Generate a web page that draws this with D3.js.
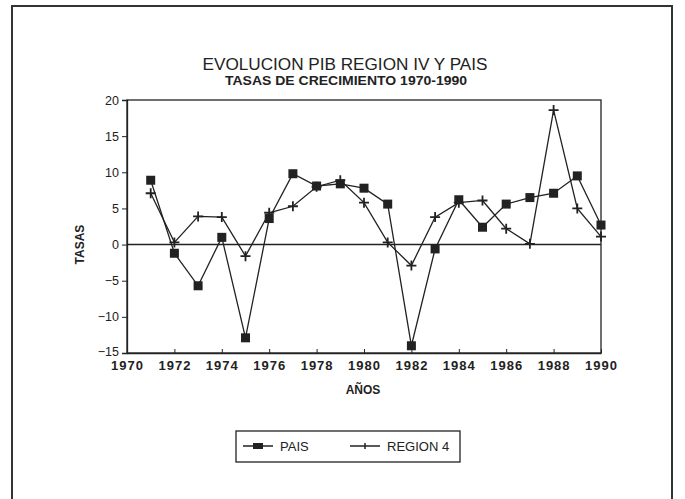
<!DOCTYPE html>
<html><head><meta charset="utf-8">
<script src="https://cdn.jsdelivr.net/npm/d3@7"></script>
<style>
body{margin:0;background:#fff;}
text{font-family:"Liberation Sans",Arial,sans-serif;fill:#222;}
</style></head>
<body><svg id="c" width="685" height="499"></svg>
<script>
const years = [1971,1972,1973,1974,1975,1976,1977,1978,1979,1980,1981,1982,1983,1984,1985,1986,1987,1988,1989,1990];
const pais = [8.9,-1.2,-5.7,1.0,-12.9,3.6,9.8,8.1,8.4,7.8,5.6,-14.0,-0.6,6.2,2.4,5.6,6.5,7.1,9.5,2.7];
const region4 = [7.1,0.3,3.9,3.8,-1.6,4.4,5.3,8.0,8.9,5.8,0.3,-2.9,3.8,5.8,6.1,2.2,0.1,18.6,5.0,1.1];
const xTicks = [1970,1972,1974,1976,1978,1980,1982,1984,1986,1988,1990];
const yTicks = [-15,-10,-5,0,5,10,15,20];
const title = "EVOLUCION PIB REGION IV Y PAIS";
const subtitle = "TASAS DE CRECIMIENTO 1970-1990";
const xLabel = "AÑOS";
const yLabel = "TASAS";
const seriesNames = ["PAIS","REGION 4"];

const svg = d3.select("#c");
const ink = "#222";
// outer frame
svg.append("rect").attr("x",12).attr("y",6).attr("width",660).attr("height",510)
  .attr("fill","none").attr("stroke","#333").attr("stroke-width",2);

const L=127,R=601,T=100,B=353;
const x = d3.scaleLinear().domain([1970,1990]).range([L,R]);
const y = d3.scaleLinear().domain([-15,20]).range([B,T]);

svg.append("text").attr("x",345).attr("y",70).attr("text-anchor","middle")
  .attr("font-size",16).attr("textLength",285).attr("lengthAdjust","spacingAndGlyphs").text(title);
svg.append("text").attr("x",346).attr("y",85).attr("text-anchor","middle")
  .attr("font-size",12).attr("font-weight","bold").attr("textLength",242).attr("lengthAdjust","spacingAndGlyphs").text(subtitle);

// frame
svg.append("rect").attr("x",L).attr("y",T).attr("width",R-L).attr("height",B-T)
  .attr("fill","none").attr("stroke",ink).attr("stroke-width",1.3);

const yAxis = svg.append("g").attr("transform",`translate(${L},0)`)
  .call(d3.axisLeft(y).tickValues(yTicks).tickSize(5).tickPadding(3).tickFormat(d=>d<0?"\u2212"+Math.abs(d):d));
yAxis.select(".domain").attr("stroke",ink).attr("stroke-width",1.3);
yAxis.selectAll("line").attr("stroke",ink);
yAxis.selectAll("text").attr("font-size",12.5).attr("fill",ink);
yAxis.selectAll(".tick").filter(d=>d===-15).select("text").attr("y",-2);

const xAxis = svg.append("g").attr("transform",`translate(0,${B})`)
  .call(d3.axisBottom(x).tickValues(xTicks).tickSizeInner(-4).tickSizeOuter(0).tickPadding(8).tickFormat(d3.format("d")));
xAxis.select(".domain").attr("stroke",ink).attr("stroke-width",1.3);
xAxis.selectAll("line").attr("stroke",ink);
xAxis.selectAll("text").attr("font-size",13).attr("font-weight","bold").attr("fill",ink).attr("letter-spacing","1px");

// zero line
svg.append("line").attr("x1",L).attr("x2",R).attr("y1",y(0)).attr("y2",y(0)).attr("stroke",ink).attr("stroke-width",1.5);

svg.append("text").attr("x",363).attr("y",394).attr("text-anchor","middle").attr("font-size",12).attr("font-weight","bold").text(xLabel);
svg.append("text").attr("transform",`translate(84,${y(0)}) rotate(-90)`).attr("text-anchor","middle").attr("font-size",12).attr("font-weight","bold").text(yLabel);

const line = d3.line().x(d=>x(d[0])).y(d=>y(d[1]));
const pd = years.map((yr,i)=>[yr,pais[i]]);
const rd = years.map((yr,i)=>[yr,region4[i]]);
svg.append("path").datum(pd).attr("d",line).attr("fill","none").attr("stroke",ink).attr("stroke-width",1.3);
svg.append("path").datum(rd).attr("d",line).attr("fill","none").attr("stroke",ink).attr("stroke-width",1.3);

const sq=9;
svg.append("g").selectAll("rect").data(pd).join("rect")
  .attr("x",d=>x(d[0])-sq/2).attr("y",d=>y(d[1])-sq/2).attr("width",sq).attr("height",sq).attr("fill",ink);
svg.append("g").selectAll("path").data(rd).join("path")
  .attr("d",d=>{const cx=x(d[0]),cy=y(d[1]);return `M${cx-5},${cy}H${cx+5}M${cx},${cy-5}V${cy+5}`;})
  .attr("stroke",ink).attr("stroke-width",1.8);

// legend
const lg = svg.append("g");
lg.append("rect").attr("x",236).attr("y",431).attr("width",224).attr("height",31).attr("fill","none").attr("stroke",ink).attr("stroke-width",1.3);
const ly=446;
lg.append("line").attr("x1",243).attr("x2",273).attr("y1",ly).attr("y2",ly).attr("stroke",ink).attr("stroke-width",1.5);
lg.append("rect").attr("x",253).attr("y",ly-3).attr("width",10).attr("height",6).attr("fill",ink);
lg.append("text").attr("x",280).attr("y",ly+5).attr("font-size",13).text(seriesNames[0]);
lg.append("line").attr("x1",350).attr("x2",380).attr("y1",ly).attr("y2",ly).attr("stroke",ink).attr("stroke-width",1.5);
lg.append("line").attr("x1",365).attr("x2",365).attr("y1",ly-3).attr("y2",ly+3).attr("stroke",ink).attr("stroke-width",1.5);
lg.append("text").attr("x",387).attr("y",ly+5).attr("font-size",13).text(seriesNames[1]);
</script></body></html>
